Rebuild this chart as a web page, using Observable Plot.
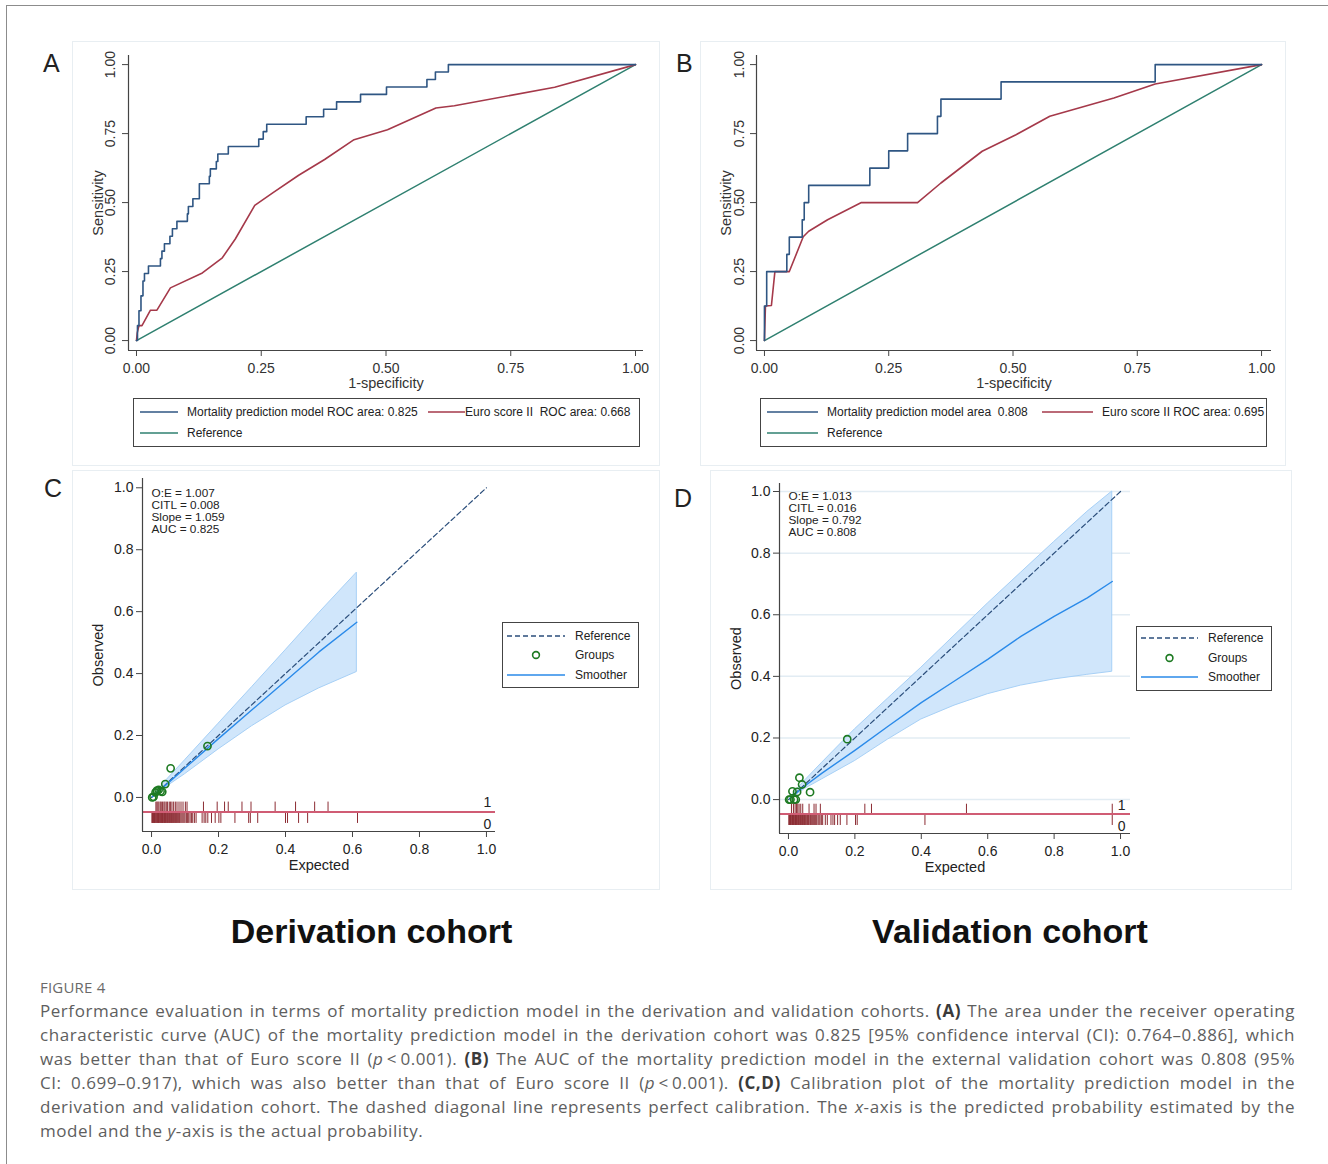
<!DOCTYPE html>
<html>
<head>
<meta charset="utf-8">
<script src="https://cdn.jsdelivr.net/npm/d3@7"></script>
<script src="https://cdn.jsdelivr.net/npm/@observablehq/plot@0.6"></script>
<style>
html,body{margin:0;padding:0;background:#fff;}
#page{position:relative;width:1328px;height:1164px;overflow:hidden;background:#fff;font-family:"Liberation Sans",Arial,sans-serif;}
#frame{position:absolute;left:6px;top:5px;width:1400px;height:1300px;border-left:1px solid #8c8c8c;border-top:1px solid #8c8c8c;}
.panelbox{position:absolute;border:1px solid #e8eef2;box-sizing:border-box;}
.plot{position:absolute;}
.plot svg{display:block;overflow:visible;}
#overlay{position:absolute;left:0;top:0;}
#fig{position:absolute;left:40px;top:977px;font-family:"Open Sans",sans-serif;font-size:15px;letter-spacing:0.2px;line-height:20px;color:#6a6a6a;}
#caption{position:absolute;left:40px;top:999px;width:1255px;font-family:"Open Sans",sans-serif;color:#5e5e5e;}
#caption .ln{font-size:17px;letter-spacing:0.55px;line-height:24px;text-align:justify;text-align-last:justify;}
#caption .ln.last{text-align-last:left;}
#caption b{color:#3a3a3a;font-weight:700;}
</style>
</head>
<body>
<div id="page">
  <div id="frame"></div>
  <div class="panelbox" style="left:72px;top:41px;width:588px;height:425px"></div>
  <div class="panelbox" style="left:700px;top:41px;width:586px;height:425px"></div>
  <div class="panelbox" style="left:72px;top:470px;width:588px;height:420px"></div>
  <div class="panelbox" style="left:710px;top:470px;width:582px;height:420px"></div>
  <div class="plot" id="pA" style="left:72px;top:41px"></div>
  <div class="plot" id="pB" style="left:700px;top:41px"></div>
  <div class="plot" id="pC" style="left:72px;top:470px"></div>
  <div class="plot" id="pD" style="left:710px;top:470px"></div>
  <div id="fig">FIGURE 4</div>
  <div id="caption">
    <div class="ln">Performance evaluation in terms of mortality prediction model in the derivation and validation cohorts. <b>(A)</b> The area under the receiver operating</div>
    <div class="ln">characteristic curve (AUC) of the mortality prediction model in the derivation cohort was 0.825 [95% confidence interval (CI): 0.764–0.886], which</div>
    <div class="ln">was better than that of Euro score II (<i>p</i>&#8201;&lt;&#8201;0.001). <b>(B)</b> The AUC of the mortality prediction model in the external validation cohort was 0.808 (95%</div>
    <div class="ln">CI: 0.699–0.917), which was also better than that of Euro score II (<i>p</i>&#8201;&lt;&#8201;0.001). <b>(C,D)</b> Calibration plot of the mortality prediction model in the</div>
    <div class="ln">derivation and validation cohort. The dashed diagonal line represents perfect calibration. The <i>x</i>-axis is the predicted probability estimated by the</div>
    <div class="ln last">model and the <i>y</i>-axis is the actual probability.</div>
  </div>
</div>
<script>
// ---------------- DATA ----------------
const rocTicks = [0, 0.25, 0.5, 0.75, 1];
const calTicks = [0, 0.2, 0.4, 0.6, 0.8, 1];
const refLine = [0, 1];
const rocXLabel = "1-specificity";
const rocYLabel = "Sensitivity";
const calXLabel = "Expected";
const calYLabel = "Observed";
const rugLabels = ["1", "0"];

// Panel A: derivation cohort ROC
const aModelFpr = [0, 0.002, 0.005, 0.009, 0.013, 0.016, 0.024, 0.048, 0.051, 0.056, 0.067, 0.072, 0.081, 0.102, 0.104, 0.113, 0.126, 0.126, 0.146, 0.148, 0.16, 0.163, 0.184, 0.245, 0.254, 0.261, 0.34, 0.375, 0.401, 0.449, 0.501, 0.582, 0.599, 0.625, 1];
const aModelTpr = [0, 0.054, 0.108, 0.162, 0.216, 0.243, 0.27, 0.297, 0.324, 0.351, 0.378, 0.405, 0.432, 0.459, 0.486, 0.514, 0.541, 0.568, 0.595, 0.622, 0.649, 0.676, 0.703, 0.73, 0.757, 0.784, 0.811, 0.838, 0.865, 0.892, 0.919, 0.946, 0.973, 1, 1];
const aEuroFpr = [0, 0.0015, 0.005, 0.011, 0.028, 0.041, 0.068, 0.132, 0.172, 0.198, 0.237, 0.273, 0.325, 0.377, 0.436, 0.503, 0.6, 0.637, 0.838, 1];
const aEuroTpr = [0, 0.028, 0.054, 0.054, 0.11, 0.11, 0.191, 0.245, 0.3, 0.368, 0.49, 0.535, 0.599, 0.656, 0.728, 0.764, 0.843, 0.851, 0.918, 1];
const aLegend = ["Mortality prediction model ROC area: 0.825", "Euro score II  ROC area: 0.668", "Reference"];

// Panel B: validation cohort ROC
const bModelFpr = [0, 0, 0.0045, 0.045, 0.05, 0.076, 0.08, 0.089, 0.212, 0.25, 0.288, 0.348, 0.355, 0.476, 0.786, 1];
const bModelTpr = [0, 0.125, 0.25, 0.3125, 0.375, 0.4375, 0.5, 0.5625, 0.625, 0.6875, 0.75, 0.8125, 0.875, 0.9375, 1, 1];
const bEuroFpr = [0, 0.002, 0.014, 0.021, 0.05, 0.078, 0.089, 0.127, 0.195, 0.308, 0.355, 0.438, 0.506, 0.574, 0.703, 0.786, 1];
const bEuroTpr = [0, 0.125, 0.127, 0.25, 0.25, 0.376, 0.396, 0.438, 0.5, 0.5, 0.571, 0.686, 0.746, 0.813, 0.879, 0.93, 1];
const bLegend = ["Mortality prediction model area  0.808", "Euro score II ROC area: 0.695", "Reference"];

// Panel C: derivation calibration
const cStats = ["O:E = 1.007", "CITL = 0.008", "Slope = 1.059", "AUC = 0.825"];
const cGroupExp = [0.002, 0.006, 0.012, 0.016, 0.021, 0.027, 0.032, 0.041, 0.057, 0.167];
const cGroupObs = [0.0, 0.002, 0.016, 0.022, 0.024, 0.02, 0.018, 0.043, 0.094, 0.166];
const cBandExp  = [0.003, 0.02, 0.05, 0.1, 0.2, 0.3, 0.4, 0.5, 0.613];
const cBandHigh = [0.004, 0.024, 0.062, 0.12, 0.238, 0.356, 0.475, 0.595, 0.726];
const cBandLow  = [0.0, 0.014, 0.038, 0.075, 0.155, 0.23, 0.297, 0.352, 0.405];
const cSmooth   = [0.002, 0.019, 0.047, 0.095, 0.19, 0.283, 0.376, 0.47, 0.566];
const cEvents = [0.013, 0.016, 0.019, 0.022, 0.026, 0.029, 0.033, 0.037, 0.04, 0.044, 0.048, 0.053, 0.057, 0.061, 0.066, 0.071, 0.076, 0.082, 0.088, 0.094, 0.101, 0.106, 0.155, 0.196, 0.218, 0.229, 0.27, 0.297, 0.369, 0.43, 0.487, 0.527];
const cNonEvents = [0.001, 0.003, 0.004, 0.006, 0.008, 0.009, 0.011, 0.013, 0.014, 0.016, 0.018, 0.02, 0.021, 0.023, 0.025, 0.026, 0.028, 0.03, 0.032, 0.033, 0.035, 0.037, 0.039, 0.04, 0.042, 0.044, 0.046, 0.048, 0.05, 0.052, 0.054, 0.056, 0.058, 0.06, 0.062, 0.064, 0.066, 0.069, 0.071, 0.073, 0.075, 0.078, 0.08, 0.083, 0.085, 0.088, 0.091, 0.094, 0.097, 0.1, 0.104, 0.107, 0.111, 0.115, 0.119, 0.123, 0.128, 0.133, 0.151, 0.157, 0.162, 0.168, 0.179, 0.19, 0.201, 0.207, 0.249, 0.29, 0.295, 0.317, 0.4, 0.406, 0.439, 0.466, 0.615];

// Panel D: validation calibration
const dStats = ["O:E = 1.013", "CITL = 0.016", "Slope = 0.792", "AUC = 0.808"];
const dGroupExp = [0.002, 0.006, 0.012, 0.017, 0.022, 0.026, 0.033, 0.041, 0.065, 0.177];
const dGroupObs = [0.0, 0.0, 0.027, 0.0, 0.0, 0.025, 0.071, 0.049, 0.024, 0.196];
const dBandExp  = [0.005, 0.02, 0.05, 0.1, 0.2, 0.3, 0.4, 0.5, 0.6, 0.7, 0.8, 0.9, 0.975];
const dBandHigh = [0.006, 0.026, 0.062, 0.118, 0.228, 0.328, 0.428, 0.532, 0.636, 0.736, 0.836, 0.934, 1.0];
const dBandLow  = [0.0, 0.012, 0.035, 0.065, 0.125, 0.195, 0.26, 0.305, 0.342, 0.37, 0.39, 0.405, 0.415];
const dSmooth   = [0.003, 0.018, 0.045, 0.085, 0.16, 0.238, 0.315, 0.385, 0.455, 0.53, 0.595, 0.655, 0.708];
const dEvents = [0.009, 0.015, 0.02, 0.024, 0.028, 0.032, 0.037, 0.043, 0.062, 0.077, 0.083, 0.096, 0.23, 0.25, 0.536, 0.975];
const dNonEvents = [0.001, 0.003, 0.005, 0.006, 0.008, 0.01, 0.012, 0.013, 0.015, 0.017, 0.019, 0.021, 0.022, 0.024, 0.026, 0.028, 0.03, 0.032, 0.034, 0.036, 0.038, 0.04, 0.042, 0.044, 0.046, 0.048, 0.05, 0.052, 0.055, 0.057, 0.06, 0.062, 0.065, 0.067, 0.07, 0.073, 0.076, 0.079, 0.082, 0.085, 0.089, 0.092, 0.095, 0.099, 0.103, 0.111, 0.117, 0.128, 0.134, 0.139, 0.148, 0.156, 0.176, 0.202, 0.207, 0.411, 0.975];

const calLegend = ["Reference", "Groups", "Smoother"];
const cohortTitles = ["Derivation cohort", "Validation cohort"];
const panelLetters = ["A", "B", "C", "D"];

// ---------------- STYLE ----------------
const FONT = "'Liberation Sans', Arial, Helvetica, sans-serif";
const cBlue = "#2f5683", cRed = "#a5394a", cTeal = "#2f8070";
const cRefDash = "#2b4e7b", cSmoothCol = "#2a8ae9", cBandFill = "#d0e6fb", cBandEdge = "#a7d0f6", cGroup = "#1d7a22";
const cRug = "#8c2c33", cRugBase = "#d05c74";
const rugTop = -0.015, rugMid = -0.047, rugBot = -0.084;

function pts(xs, ys) { return xs.map((x, i) => ({x, y: ys[i]})); }

function rocPlot(o) {
  const xDom = [-0.016, o.xMax], yDom = [-0.036, 1.033];
  return Plot.plot({
    width: o.width, height: 360,
    marginLeft: 56, marginRight: o.marginRight, marginTop: 14, marginBottom: 51,
    x: {domain: xDom, axis: null}, y: {domain: yDom, axis: null},
    style: {fontFamily: FONT, fontSize: "14px", color: "#333", background: "transparent", overflow: "visible"},
    marks: [
      Plot.ruleX([xDom[0]], {stroke: "#444", strokeWidth: 1.2}),
      Plot.ruleY([yDom[0]], {stroke: "#444", strokeWidth: 1.2}),
      Plot.axisX({ticks: rocTicks, tickSize: 6, tickPadding: 7, tickFormat: d => d.toFixed(2), label: null, stroke: "#444"}),
      Plot.axisY({ticks: rocTicks, tickSize: 6, tickFormat: () => "", label: null, stroke: "#444"}),
      Plot.text(rocTicks, {y: d => d, text: d => d.toFixed(2), frameAnchor: "left", dx: o.tickDx, rotate: -90, textAnchor: "middle", lineAnchor: "middle"}),
      Plot.text([rocYLabel], {frameAnchor: "left", dx: o.labelDx, rotate: -90, textAnchor: "middle", lineAnchor: "middle", fontSize: 14.5}),
      Plot.text([rocXLabel], {frameAnchor: "bottom", dy: 33, lineAnchor: "middle", fontSize: 14.5}),
      Plot.line(pts(refLine, refLine), {x: "x", y: "y", stroke: cTeal, strokeWidth: 1.5}),
      Plot.line(pts(o.eF, o.eT), {x: "x", y: "y", stroke: cRed, strokeWidth: 1.6}),
      Plot.line(pts(o.mF, o.mT), {x: "x", y: "y", curve: "step-after", stroke: cBlue, strokeWidth: 1.6})
    ]
  });
}

function calPlot(o) {
  const xDom = o.xDom, yDom = o.yDom;
  const band = o.bx.map((x, i) => ({x, lo: o.blo[i], hi: o.bhi[i], s: o.sm[i]}));
  return Plot.plot({
    width: o.width, height: 420,
    marginLeft: o.ml, marginRight: o.mr, marginTop: o.mt, marginBottom: o.mb,
    x: {domain: xDom, axis: null}, y: {domain: yDom, axis: null},
    style: {fontFamily: FONT, fontSize: "14px", color: "#222", background: "transparent", overflow: "visible"},
    marks: [
      o.grid ? Plot.gridY({ticks: calTicks, stroke: "#e2ecf3", strokeOpacity: 1, strokeWidth: 1.5}) : null,
      Plot.areaY(band, {x: "x", y1: "lo", y2: "hi", fill: cBandFill, stroke: cBandEdge, strokeWidth: 1}),
      Plot.line(pts(refLine, refLine), {x: "x", y: "y", stroke: cRefDash, strokeDasharray: "5,3", strokeWidth: 1.2}),
      Plot.line(band, {x: "x", y: "s", stroke: cSmoothCol, strokeWidth: 1.4}),
      Plot.dot(pts(o.gx, o.gy), {x: "x", y: "y", r: 3.6, stroke: cGroup, strokeWidth: 1.6, fill: "none"}),
      Plot.ruleX(o.ev, {x: d => d, y1: rugTop, y2: rugMid, stroke: cRug, strokeWidth: 1}),
      Plot.ruleX(o.nev, {x: d => d, y1: rugMid, y2: rugBot, stroke: cRug, strokeWidth: 1}),
      Plot.ruleY([rugMid], {stroke: cRugBase, strokeWidth: 2}),
      Plot.text(rugLabels, {x: () => 1, y: d => d === "1" ? -0.018 : -0.086, text: d => d, lineAnchor: "middle", dx: 1, fontSize: 14}),
      Plot.ruleX([xDom[0]], {stroke: "#444", strokeWidth: 1.2}),
      Plot.ruleY([yDom[0]], {stroke: "#444", strokeWidth: 1.2}),
      Plot.axisX({ticks: calTicks, tickSize: 6, tickPadding: 7, tickFormat: d => d.toFixed(1), label: null, stroke: "#444"}),
      Plot.axisY({ticks: calTicks, tickSize: 6, tickPadding: 3, tickFormat: d => d.toFixed(1), label: null, stroke: "#444"}),
      Plot.text([o.stats.join("\n")], {frameAnchor: "top-left", dx: 9, dy: o.statsDy, textAnchor: "start", lineAnchor: "top", fontSize: 11.8, lineHeight: 1.02}),
      Plot.text([calXLabel], {frameAnchor: "bottom", dy: 34, lineAnchor: "middle", fontSize: 14.5}),
      Plot.text([calYLabel], {frameAnchor: "left", dx: o.ylabDx, rotate: -90, textAnchor: "middle", lineAnchor: "middle", fontSize: 14.5})
    ]
  });
}

document.getElementById("pA").append(rocPlot({width: 588, marginRight: 17, xMax: 1.016, tickDx: -18, labelDx: -30,
  mF: aModelFpr, mT: aModelTpr, eF: aEuroFpr, eT: aEuroTpr}));
document.getElementById("pB").append(rocPlot({width: 586, marginRight: 15, xMax: 1.02, tickDx: -17, labelDx: -30,
  mF: bModelFpr, mT: bModelTpr, eF: bEuroFpr, eT: bEuroTpr}));
document.getElementById("pC").append(calPlot({width: 588, ml: 70, mr: 165, mt: 8, mb: 59, xDom: [-0.027, 1.027], yDom: [-0.11, 1.03],
  grid: false, statsDy: 10, ylabDx: -44,
  bx: cBandExp, blo: cBandLow, bhi: cBandHigh, sm: cSmooth, gx: cGroupExp, gy: cGroupObs, ev: cEvents, nev: cNonEvents, stats: cStats}));
document.getElementById("pD").append(calPlot({width: 582, ml: 69, mr: 162, mt: 13, mb: 57, xDom: [-0.027, 1.03], yDom: [-0.11, 1.026],
  grid: true, statsDy: 8, ylabDx: -43,
  bx: dBandExp, blo: dBandLow, bhi: dBandHigh, sm: dSmooth, gx: dGroupExp, gy: dGroupObs, ev: dEvents, nev: dNonEvents, stats: dStats}));

// ---------------- OVERLAY: letters, legends, titles ----------------
const svg = d3.create("svg").attr("id", "overlay").attr("width", 1328).attr("height", 1164)
  .style("font-family", FONT).style("pointer-events", "none");
document.getElementById("page").append(svg.node());

function txt(x, y, s, size, opts = {}) {
  return svg.append("text").attr("x", x).attr("y", y).attr("font-size", size)
    .attr("dominant-baseline", opts.baseline || "central").attr("text-anchor", opts.anchor || "start")
    .attr("font-weight", opts.weight || "normal").attr("fill", opts.fill || "#222")
    .style("white-space", "pre").text(s);
}
function seg(x1, x2, y, color, dash, w) {
  return svg.append("line").attr("x1", x1).attr("x2", x2).attr("y1", y).attr("y2", y)
    .attr("stroke", color).attr("stroke-width", w || 1.5).attr("stroke-dasharray", dash || null);
}
function box(x, y, w, h) {
  svg.append("rect").attr("x", x + 0.5).attr("y", y + 0.5).attr("width", w).attr("height", h)
    .attr("fill", "#fff").attr("stroke", "#444").attr("stroke-width", 1);
}

// panel letters
txt(43, 72, panelLetters[0], 25, {baseline: "alphabetic"});
txt(676, 72, panelLetters[1], 25, {baseline: "alphabetic"});
txt(44, 497, panelLetters[2], 25, {baseline: "alphabetic"});
txt(674, 507, panelLetters[3], 25, {baseline: "alphabetic"});

// ROC legend A
box(133, 398, 506, 48);
seg(140, 178, 412, cBlue); txt(187, 412, aLegend[0], 12);
seg(428, 465, 412, cRed); txt(465, 412, aLegend[1], 12);
seg(140, 178, 433, cTeal); txt(187, 433, aLegend[2], 12);

// ROC legend B
box(760, 398, 506, 48);
seg(767, 818, 412, cBlue); txt(827, 412, bLegend[0], 12);
seg(1042, 1093, 412, cRed); txt(1102, 412, bLegend[1], 12);
seg(767, 818, 433, cTeal); txt(827, 433, bLegend[2], 12);

// calibration legends
function calLegendBox(x, y, w, h, sx1, sx2, tx, ys) {
  box(x, y, w, h);
  seg(sx1, sx2, ys[0], cRefDash, "5,3", 1.3); txt(tx, ys[0], calLegend[0], 12);
  svg.append("circle").attr("cx", (sx1 + sx2) / 2).attr("cy", ys[1]).attr("r", 3.4)
    .attr("fill", "none").attr("stroke", cGroup).attr("stroke-width", 1.6);
  txt(tx, ys[1], calLegend[1], 12);
  seg(sx1, sx2, ys[2], cSmoothCol, null, 1.4); txt(tx, ys[2], calLegend[2], 12);
}
calLegendBox(502, 622, 136, 65, 507, 565, 575, [636, 655, 675]);
calLegendBox(1136, 626, 135, 64, 1141, 1198, 1208, [638, 658, 677]);

// cohort titles
txt(371.5, 943, cohortTitles[0], 34, {baseline: "alphabetic", anchor: "middle", weight: "bold", fill: "#111"});
txt(1010, 943, cohortTitles[1], 34, {baseline: "alphabetic", anchor: "middle", weight: "bold", fill: "#111"});
</script>
</body>
</html>
